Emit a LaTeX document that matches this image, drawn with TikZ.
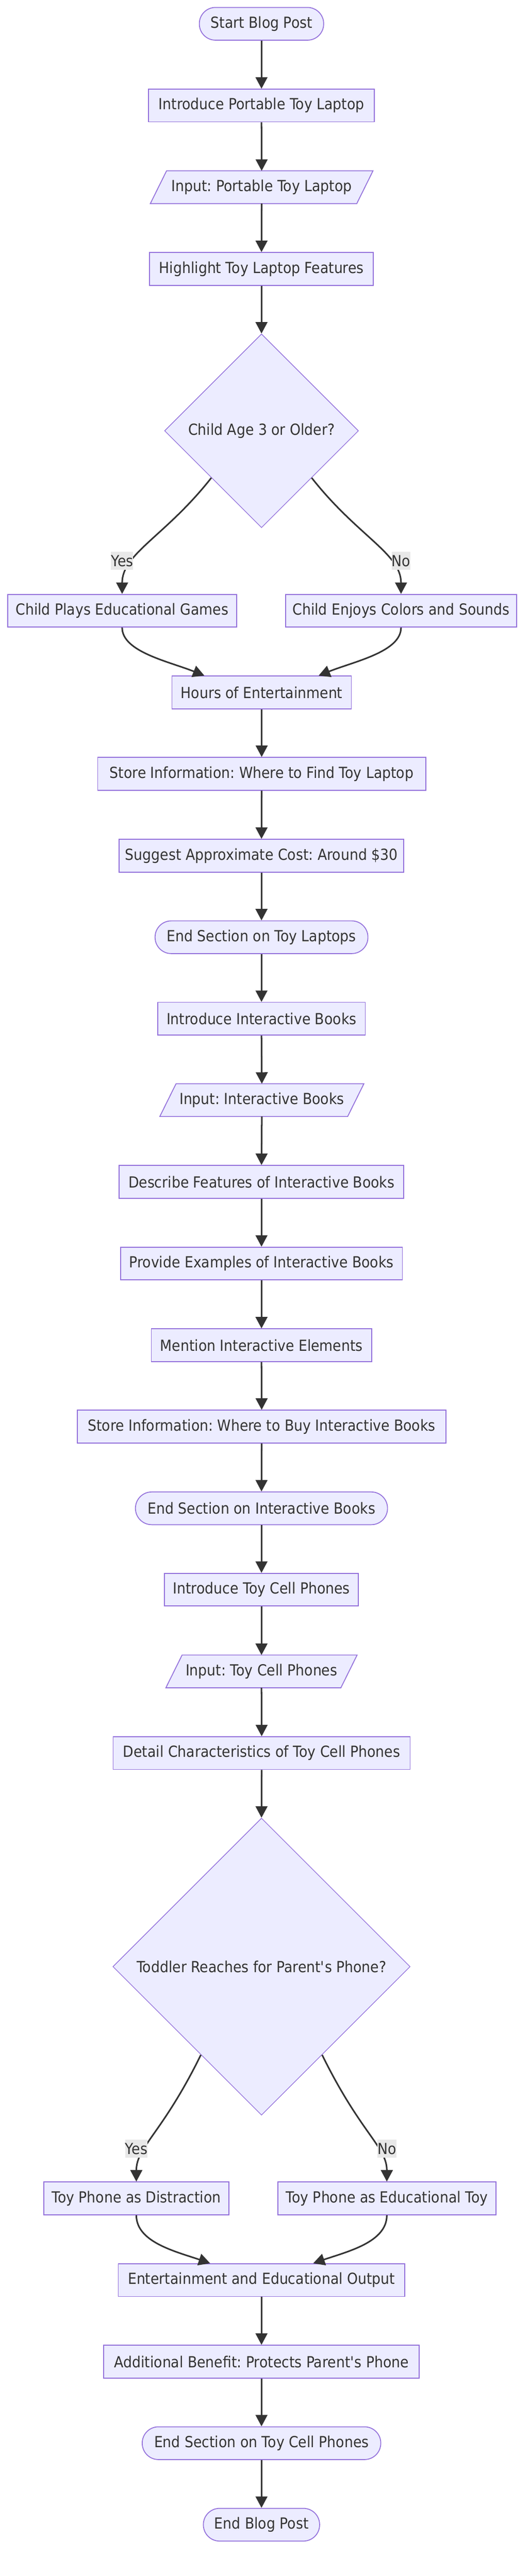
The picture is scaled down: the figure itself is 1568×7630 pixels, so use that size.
\documentclass[tikz,border=0pt]{standalone}
\usepackage{fontspec}
\setmainfont{DejaVu Sans}[FakeStretch=0.9]
\usetikzlibrary{shapes.geometric,arrows.meta,calc}
\definecolor{nfill}{HTML}{ECECFF}
\definecolor{nline}{HTML}{9370DB}
\definecolor{ink}{HTML}{333333}
\definecolor{lblbg}{HTML}{E8E8E8}
\pgfdeclarelayer{bg}
\pgfsetlayers{bg,main}
\frenchspacing
\begin{document}
\begin{tikzpicture}[x=0.5pt,y=-0.5pt,
  every node/.style={font=\fontsize{22.65pt}{27pt}\selectfont, text=ink, inner sep=0pt},
  box/.style={rectangle, draw=nline, fill=nfill, line width=1.3pt, minimum height=48.5pt},
  pill/.style={box, rounded corners=24pt},
  io/.style={rectangle, minimum height=48.5pt, outer sep=0pt},
  iopath/.style={draw=nline, fill=nfill, line width=1.3pt},
  decision/.style={diamond, draw=nline, fill=nfill, line width=1pt, aspect=1},
  lbl/.style={fill=lblbg, minimum height=26.5pt},
  flow/.style={draw=ink, line width=2.3pt, -{Triangle[length=17pt,width=17.5pt]}},
]
\useasboundingbox (0,0) rectangle (1568,7630);

\node[pill, minimum width=184pt] (n1) at (774,70.5) {Start Blog Post};
\node[box, minimum width=334pt] (n2) at (774,312.5) {Introduce Portable Toy Laptop};
\node[io, minimum width=305.5pt] (n3) at (774.5,554.5) {Input: Portable Toy Laptop};
\node[box, minimum width=331pt] (n4) at (774,796.5) {Highlight Toy Laptop Features};
\node[decision, minimum width=287pt, minimum height=287pt] (d1) at (774,1276) {Child Age 3 or Older?};
\node[box, minimum width=338.5pt] (n6) at (361.5,1809) {Child Plays Educational Games};
\node[box, minimum width=342pt] (n7) at (1187,1809) {Child Enjoys Colors and Sounds};
\node[box, minimum width=265.5pt] (n8) at (774.5,2051) {Hours of Entertainment};
\node[box, minimum width=485.5pt] (n9) at (774.5,2292) {Store Information: Where to Find Toy Laptop};
\node[box, minimum width=421pt] (n10) at (774,2534.5) {Suggest Approximate Cost: Around \$30};
\node[pill, minimum width=315pt] (n11) at (774,2776) {End Section on Toy Laptops};
\node[box, minimum width=307pt] (n12) at (774,3017.5) {Introduce Interactive Books};
\node[io, minimum width=278pt] (n13) at (775,3258.5) {Input: Interactive Books};
\node[box, minimum width=421pt] (n14) at (774,3500.5) {Describe Features of Interactive Books};
\node[box, minimum width=417pt] (n15) at (774,3742.5) {Provide Examples of Interactive Books};
\node[box, minimum width=326pt] (n16) at (774,3984.5) {Mention Interactive Elements};
\node[box, minimum width=545.5pt] (n17) at (774.5,4225.5) {Store Information: Where to Buy Interactive Books};
\node[pill, minimum width=373pt] (n18) at (774,4467.5) {End Section on Interactive Books};
\node[box, minimum width=287pt] (n19) at (774,4708.5) {Introduce Toy Cell Phones};
\node[io, minimum width=259pt] (n20) at (774,4950.5) {Input: Toy Cell Phones};
\node[box, minimum width=439.5pt] (n21) at (774.5,5192.5) {Detail Characteristics of Toy Cell Phones};
\node[decision, minimum width=440pt, minimum height=440pt] (d2) at (774,5825) {Toddler Reaches for Parent\textquotesingle s Phone?};
\node[box, minimum width=273.5pt] (n23) at (403.5,6511.5) {Toy Phone as Distraction};
\node[box, minimum width=323pt] (n24) at (1145,6511.5) {Toy Phone as Educational Toy};
\node[box, minimum width=424pt] (n25) at (774,6753.5) {Entertainment and Educational Output};
\node[box, minimum width=467pt] (n26) at (774,6995) {Additional Benefit: Protects Parent\textquotesingle s Phone};
\node[pill, minimum width=353pt] (n27) at (774,7236.5) {End Section on Toy Cell Phones};
\node[pill, minimum width=172pt] (n28) at (774,7478) {End Blog Post};

\begin{pgfonlayer}{bg}
\foreach \n in {n3,n13,n20}
  \filldraw[iopath] ($(\n.south west)+(-24,0)$) -- ($(\n.south east)+(-24,0)$)
    -- ($(\n.north east)+(24,0)$) -- ($(\n.north west)+(24,0)$) -- cycle;
\end{pgfonlayer}

% straight connectors
\draw[flow] (n1.south) -- (n2.north);
\draw[flow] (n2.south) -- (n3.north);
\draw[flow] (n3.south) -- (n4.north);
\draw[flow] (n4.south) -- (d1.north);
\draw[flow] (n8.south) -- (n9.north);
\draw[flow] (n9.south) -- (n10.north);
\draw[flow] (n10.south) -- (n11.north);
\draw[flow] (n11.south) -- (n12.north);
\draw[flow] (n12.south) -- (n13.north);
\draw[flow] (n13.south) -- (n14.north);
\draw[flow] (n14.south) -- (n15.north);
\draw[flow] (n15.south) -- (n16.north);
\draw[flow] (n16.south) -- (n17.north);
\draw[flow] (n17.south) -- (n18.north);
\draw[flow] (n18.south) -- (n19.north);
\draw[flow] (n19.south) -- (n20.north);
\draw[flow] (n20.south) -- (n21.north);
\draw[flow] (n21.south) -- (d2.north);
\draw[flow] (n25.south) -- (n26.north);
\draw[flow] (n26.south) -- (n27.north);
\draw[flow] (n27.south) -- (n28.north);

% decision 1 branches
\draw[flow] ($(d1.south)!0.516!(d1.west)$) .. controls +(-136,173) and +(0,-120) .. (n6.north);
\draw[flow] ($(d1.south)!0.516!(d1.east)$) .. controls +(136,173) and +(0,-120) .. (n7.north);
\node[lbl, minimum width=32.5pt] (l1) at (361.5,1661.5) {Yes};
\node[lbl, minimum width=27pt] (l2) at (1187,1661.5) {No};
\draw[flow] (n6.south) .. controls +(0,72) and +(-105,-42) .. ($(n8.north)+(-169.5,0)$);
\draw[flow] (n7.south) .. controls +(0,72) and +(105,-42) .. ($(n8.north)+(168.5,0)$);

% decision 2 branches
\draw[flow] ($(d2.south)!0.407!(d2.west)$) .. controls +(-115,234) and +(0,-103) .. (n23.north);
\draw[flow] ($(d2.south)!0.407!(d2.east)$) .. controls +(115,234) and +(0,-103) .. (n24.north);
\node[lbl, minimum width=32.5pt] (l3) at (403.5,6364.5) {Yes};
\node[lbl, minimum width=27pt] (l4) at (1145,6364.5) {No};
\draw[flow] (n23.south) .. controls +(0,80) and +(-102,-35) .. ($(n25.north)+(-152,0)$);
\draw[flow] (n24.south) .. controls +(0,80) and +(102,-35) .. ($(n25.north)+(153,0)$);
\end{tikzpicture}
\end{document}
